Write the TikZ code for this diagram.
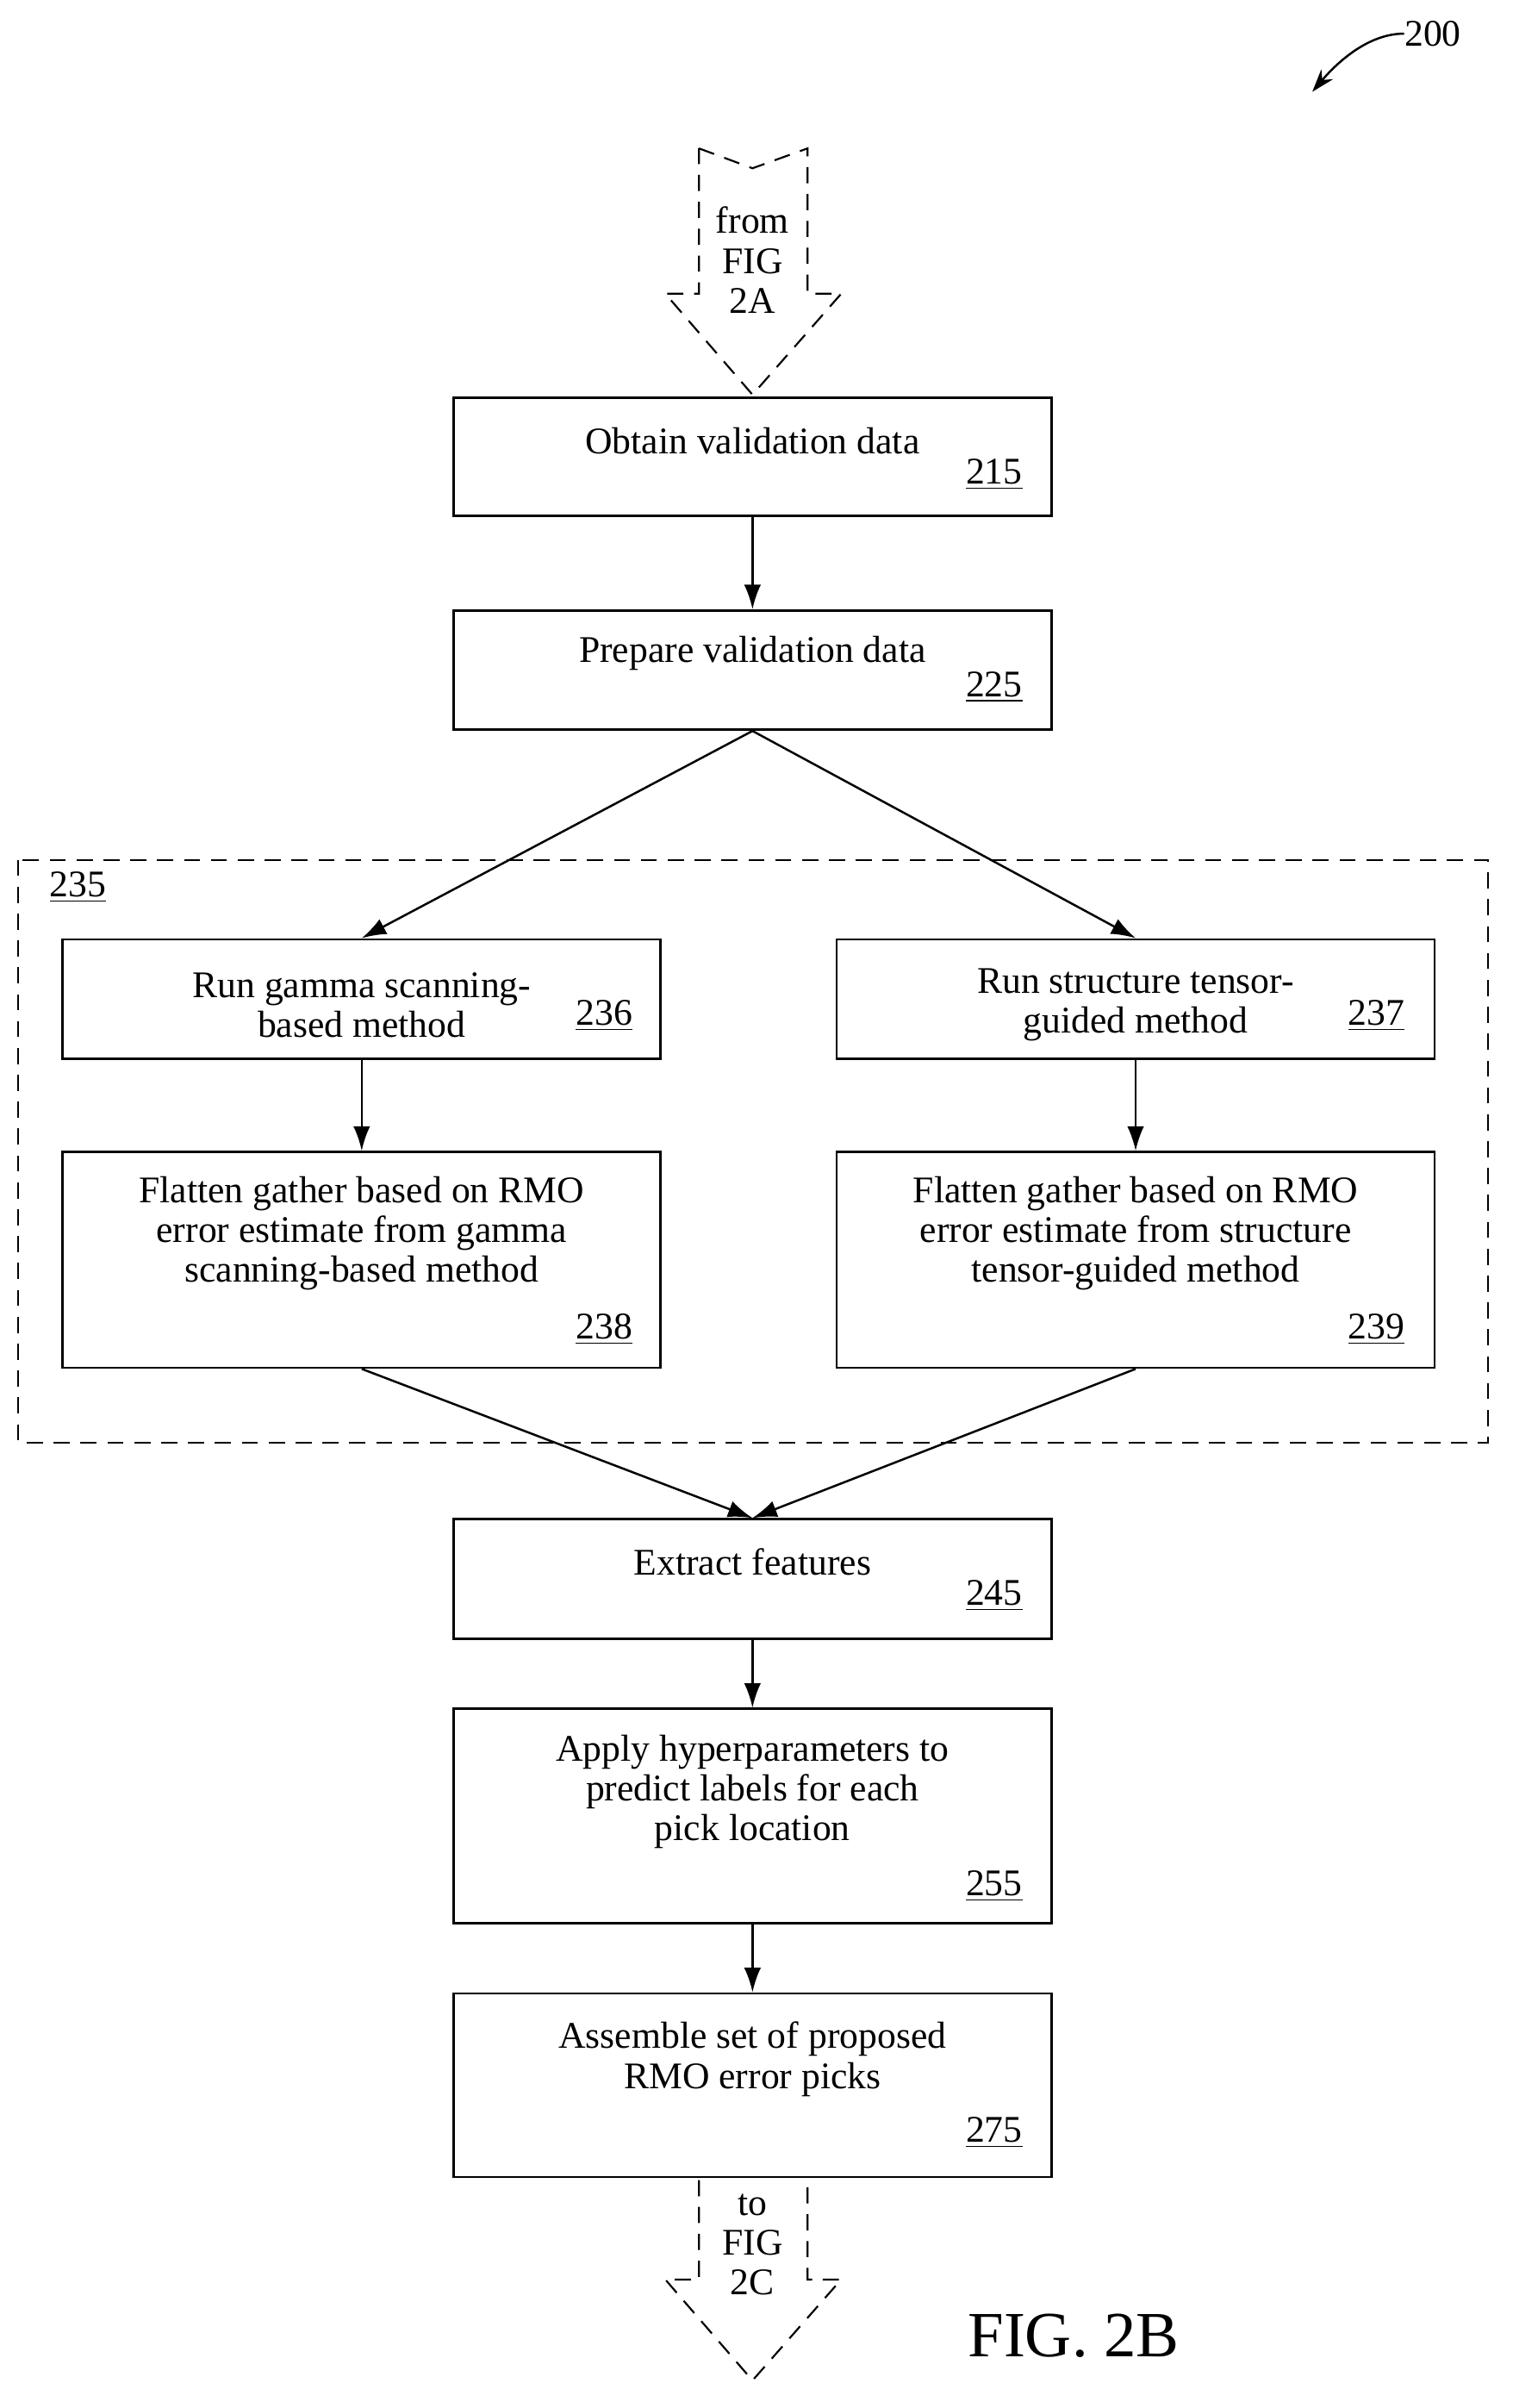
\documentclass[tikz,border=0pt]{standalone}
\usepackage{fontspec}
\setmainfont{Liberation Serif}
\usetikzlibrary{arrows.meta}
\tikzset{
  line/.style = {-{Latex[length=3.2mm,width=2.2mm]}, line width=0.8pt},
  box/.style  = {draw, line width=0.9pt, minimum width=7.82cm, inner sep=0pt},
  txt/.style  = {align=center, font=\fontsize{14}{14.8}\selectfont, inner sep=0pt},
  num/.style  = {font=\fontsize{14}{15}\selectfont, inner sep=0pt},
  hollow/.style = {draw, dashed, line width=0.7pt, dash pattern=on 6pt off 4pt},
}
\begin{document}
\begin{tikzpicture}[x=0.02cm, y=-0.02cm]
  \useasboundingbox (0,0) rectangle (989,1574);
  % reference numeral
  \node[num, anchor=west] (fig) at (918,22) {200};
  \coordinate (figend) at (858,60);
  \draw[-{Stealth[length=3mm,width=2mm]}, line width=0.8pt] (fig.west) .. controls (895,22) and (875,40) .. (figend);
  % incoming connector
  \draw[hollow] (457,97) -- (492,110) -- (528,97) -- (528,192) -- (550,192) -- (492,258)
    -- (435,192) -- (457,192) -- cycle;
  \node[txt] (from) at (492,170) {from\\FIG\\2A};
  % main boxes
  \node[box, minimum height=1.54cm] (b215) at (492,298.5) {};
  \node[txt] (t215) at (492,288) {Obtain validation data};
  \node[num] (n215) at (650,310) {\underline{215}};
  \node[box, minimum height=1.56cm] (b225) at (492,438) {};
  \node[txt] (t225) at (492,427) {Prepare validation data};
  \node[num] (n225) at (650,449) {\underline{225}};
  % group 235
  \draw[hollow] (12,562) rectangle (973,943);
  \node[num] (n235) at (51,580) {\underline{235}};
  \node[box, minimum height=1.56cm] (b236) at (236.5,653) {};
  \node[txt] (t236) at (236.5,657) {Run gamma scanning-\\based method};
  \node[num] (n236) at (395,664) {\underline{236}};
  \node[box, minimum height=1.56cm] (b237) at (742.5,653) {};
  \node[txt] (t237) at (742.5,657) {Run structure tensor-\\guided method};
  \node[num] (n237) at (900,664) {\underline{237}};
  \node[box, minimum height=2.82cm] (b238) at (236.5,823.5) {};
  \node[txt] (t238) at (236.5,806) {Flatten gather based on RMO\\error estimate from gamma\\scanning-based method};
  \node[num] (n238) at (395,869) {\underline{238}};
  \node[box, minimum height=2.82cm] (b239) at (742.5,823.5) {};
  \node[txt] (t239) at (742.5,806) {Flatten gather based on RMO\\error estimate from structure\\tensor-guided method};
  \node[num] (n239) at (900,869) {\underline{239}};
  % lower boxes
  \node[box, minimum height=1.56cm] (b245) at (492,1032) {};
  \node[txt] (t245) at (492,1021) {Extract features};
  \node[num] (n245) at (650,1043) {\underline{245}};
  \node[box, minimum height=2.8cm] (b255) at (492,1187) {};
  \node[txt] (t255) at (492,1171) {Apply hyperparameters to\\predict labels for each\\pick location};
  \node[num] (n255) at (650,1233) {\underline{255}};
  \node[box, minimum height=2.4cm] (b275) at (492,1363) {};
  \node[txt] (t275) at (492,1346) {Assemble set of proposed\\RMO error picks};
  \node[num] (n275) at (650,1394) {\underline{275}};
  % outgoing connector
  \draw[hollow] (457,1425) -- (457,1490) -- (435,1490) -- (492,1556) -- (550,1490)
    -- (528,1490) -- (528,1425);
  \node[txt] (to) at (492,1467) {to\\FIG\\2C};
  \node[font=\fontsize{24}{26}\selectfont, inner sep=0pt] (cap) at (702,1527) {FIG. 2B};
  % connectors
  \draw[line] (b215) -- (b225);
  \draw[line] (b225.south) -- (b236.north);
  \draw[line] (b225.south) -- (b237.north);
  \draw[line] (b236) -- (b238);
  \draw[line] (b237) -- (b239);
  \draw[line] (b238.south) -- (b245.north);
  \draw[line] (b239.south) -- (b245.north);
  \draw[line] (b245) -- (b255);
  \draw[line] (b255) -- (b275);
\end{tikzpicture}
\end{document}
